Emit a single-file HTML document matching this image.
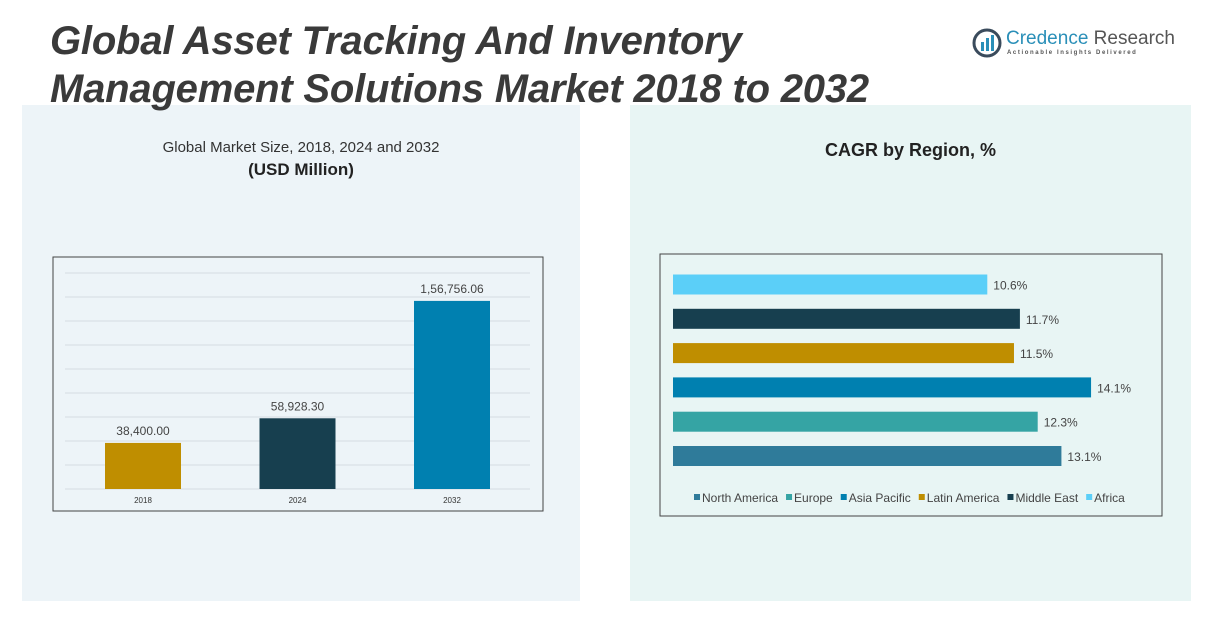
<!DOCTYPE html>
<html><head><meta charset="utf-8"><style>
body{margin:0;width:1228px;height:622px;background:#fff;position:relative;overflow:hidden;font-family:"Liberation Sans",sans-serif}
.abs{position:absolute}
</style></head><body>
<div class="abs" style="left:22px;top:105px;width:558px;height:496px;background:#edf4f8"></div>
<div class="abs" style="left:630px;top:105px;width:561px;height:496px;background:#e8f5f4"></div>
<div class="abs" style="left:50px;top:17px;font-size:40px;font-weight:bold;font-style:italic;color:#3a3a3a;line-height:48px;letter-spacing:-0.2px;white-space:nowrap">Global Asset Tracking And Inventory<br>Management Solutions Market 2018 to 2032</div>
<div class="abs" style="left:972px;top:28px;width:200px;height:32px">
<svg width="30" height="30" style="position:absolute;left:0;top:0"><circle cx="15" cy="15" r="13" fill="none" stroke="#3a4b5c" stroke-width="3"/><rect x="9" y="14" width="3" height="9" fill="#2a8fb8"/><rect x="14" y="10" width="3" height="13" fill="#2a8fb8"/><rect x="19" y="7" width="3" height="16" fill="#2a8fb8"/></svg>
<div style="position:absolute;left:34px;top:0;font-size:19px;color:#2a8fb8;white-space:nowrap">Credence <span style="color:#555">Research</span></div>
<div style="position:absolute;left:35px;top:22px;font-size:6px;letter-spacing:1.6px;color:#555;white-space:nowrap;font-weight:bold">Actionable Insights Delivered</div>
</div>
<div class="abs" style="left:22px;width:558px;top:139px;text-align:center;font-size:15px;color:#333">Global Market Size, 2018, 2024 and 2032</div>
<div class="abs" style="left:22px;width:558px;top:160px;text-align:center;font-size:17px;font-weight:bold;color:#222">(USD Million)</div>
<div class="abs" style="left:630px;width:561px;top:140px;text-align:center;font-size:18px;font-weight:bold;color:#222">CAGR by Region, %</div>
<svg class="abs" style="left:0;top:0" width="1228" height="622" id="svg"></svg>
<script>
const years=["2018","2024","2032"];
const sizes=[38400.00,58928.30,156756.06];
const sizeLabels=["38,400.00","58,928.30","1,56,756.06"];
const sizeColors=["#bf8e00","#173f4f","#0080b0"];
const regions=["North America","Europe","Asia Pacific","Latin America","Middle East","Africa"];
const cagr=[13.1,12.3,14.1,11.5,11.7,10.6];
const regionColors=["#2f7b9a","#35a4a4","#0080b0","#bf8e00","#173f4f","#5bcff8"];
const svg=document.getElementById('svg');
const NS='http://www.w3.org/2000/svg';
function mk(t,a){const e=document.createElementNS(NS,t);for(const k in a)e.setAttribute(k,a[k]);svg.appendChild(e);return e;}
let box=mk('rect',{x:53,y:257,width:490,height:254,fill:'none',stroke:'#444','stroke-width':1});


const base=489,maxV=180000,plotH=216;
const y=v=>base-v/maxV*plotH;
for(let g=0;g<=9;g++){const gy=y(g*20000);
const l=mk('line',{x1:65,x2:530,y1:gy,y2:gy,stroke:'#d5dde2','stroke-width':1});

}
const xc=i=>143+i*154.5;
years.forEach((yr,i)=>{
const r=mk('rect',{x:xc(i)-38,y:y(sizes[i]),width:76,height:base-y(sizes[i]),fill:sizeColors[i]});


const t=mk('text',{x:xc(i),y:y(sizes[i])-8,'text-anchor':'middle','font-size':12,fill:'#444'});t.textContent=sizeLabels[i];


const a=mk('text',{x:xc(i),y:503,'text-anchor':'middle','font-size':8,fill:'#333'});a.textContent=yr;


});
let box2=mk('rect',{x:660,y:254,width:502,height:262,fill:'none',stroke:'#444','stroke-width':1});


const x0=673,pxPer=29.65;
regions.forEach((rg,i)=>{
const by=446-i*34.3;const w=cagr[i]*pxPer;
const r=mk('rect',{x:x0,y:by,width:w,height:20,fill:regionColors[i]});


const t=mk('text',{x:x0+w+6,y:by+15,'font-size':12,fill:'#444'});t.textContent=cagr[i]+'%';


});
let lx=694;
regions.forEach((rg,i)=>{
const s=mk('rect',{x:lx,y:494,width:6,height:6,fill:regionColors[i]});


const t=mk('text',{x:lx+8,y:502,'font-size':12,fill:'#444'});t.textContent=rg;


lx+=8+t.getComputedTextLength()+8;
});
</script>
</body></html>
